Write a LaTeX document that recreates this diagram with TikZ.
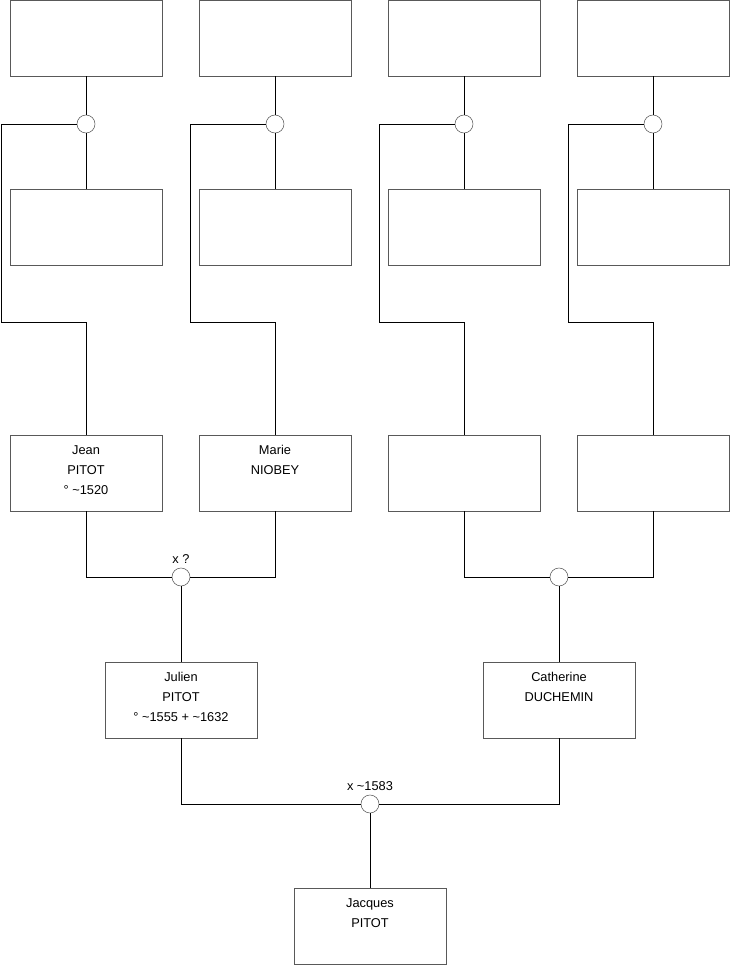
\documentclass[tikz,border=0pt]{standalone}
\usepackage{fontspec}
\setmainfont{Liberation Sans}
\usetikzlibrary{positioning}

\begin{document}
\begin{tikzpicture}[
  x=0.75pt, y=-0.75pt,
  box/.style={rectangle, draw=black!65, fill=white, minimum width=114pt,
              minimum height=57pt, inner sep=0pt},
  union/.style={circle, draw=black!65, fill=white, minimum size=13.5pt,
                inner sep=0pt},
  txt/.style={align=center, inner sep=0pt, font=\fontsize{9.6}{15}\selectfont},
  lk/.style={draw, black, line width=0.75pt}
]
  \useasboundingbox (0,0) rectangle (740,975);
  \foreach \i/\x in {1/86, 2/275, 3/464, 4/653} {
    \node[box] (t\i) at (\x,38) {};
    \node[union] (u\i) at (\x,124) {};
    \node[box] (m\i) at (\x,227) {};
    \node[box] (p\i) at (\x,473) {};
  }
  \node[union] (v1) at (181,577) {};
  \node[union] (v2) at (559,577) {};
  \node[box] (julien) at (181,700) {};
  \node[box] (catherine) at (559,700) {};
  \node[union] (w) at (370,804) {};
  \node[box] (jacques) at (370,926) {};

  \node[txt, below=8pt of p1.north] (p1txt)
    {Jean\\PITOT\\° \textasciitilde1520};
  \node[txt, below=8pt of p2.north] (p2txt)
    {Marie\\NIOBEY};
  \node[txt, below=8pt of julien.north] (juliantxt)
    {Julien\\PITOT\\° \textasciitilde1555 + \textasciitilde1632};
  \node[txt, below=8pt of catherine.north] (catherinetxt)
    {Catherine\\DUCHEMIN};
  \node[txt, below=8pt of jacques.north] (jacquestxt)
    {Jacques\\PITOT};
  \node[txt, above=3pt of v1] (v1lbl) {x ?};
  \node[txt, above=3pt of w] (wlbl) {x \textasciitilde1583};

  \foreach \i/\l in {1/1, 2/190, 3/379, 4/568} {
    \draw[lk] (t\i) -- (u\i);
    \draw[lk] (u\i) -- (m\i);
    \draw[lk] (u\i.west) -| (\l,322) -| (p\i.north);
  }
  \draw[lk] (p1.south) |- (v1.west);
  \draw[lk] (p2.south) |- (v1.east);
  \draw[lk] (p3.south) |- (v2.west);
  \draw[lk] (p4.south) |- (v2.east);
  \draw[lk] (v1) -- (julien);
  \draw[lk] (v2) -- (catherine);
  \draw[lk] (julien.south) |- (w.west);
  \draw[lk] (catherine.south) |- (w.east);
  \draw[lk] (w) -- (jacques);
\end{tikzpicture}
\end{document}
